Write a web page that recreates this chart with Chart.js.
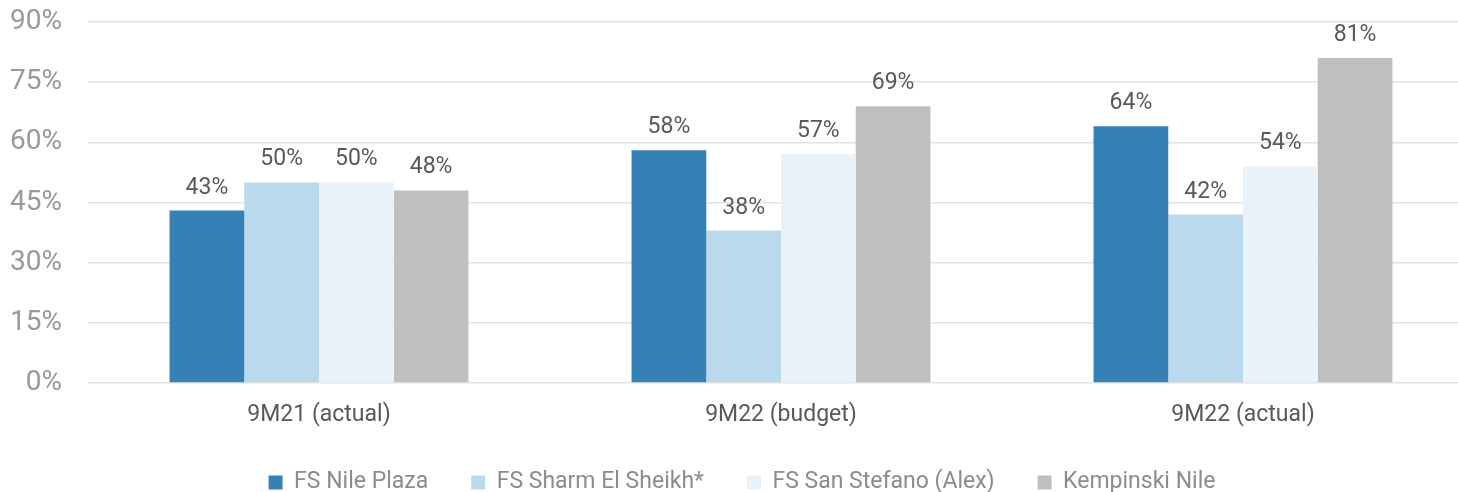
<!DOCTYPE html>
<html>
<head>
<meta charset="utf-8">
<script src="https://cdn.jsdelivr.net/npm/chart.js@4.4.0/dist/chart.umd.min.js"></script>
<style>
  html, body { margin: 0; padding: 0; background: #fff; overflow: hidden; }
  #wrap { position: relative; width: 1474px; height: 504px; }
</style>
</head>
<body>
<div id="wrap"><canvas id="c"></canvas></div>
<script>
const categories = ['9M21 (actual)', '9M22 (budget)', '9M22 (actual)'];
const seriesNames = ['FS Nile Plaza', 'FS Sharm El Sheikh*', 'FS San Stefano (Alex)', 'Kempinski Nile'];
const nilePlaza = [43, 58, 64];
const sharm = [50, 38, 42];
const sanStefano = [50, 57, 54];
const kempinski = [48, 69, 81];
const yTicks = [0, 15, 30, 45, 60, 75, 90];
const colors = ['#3580B4', '#BBD9EC', '#E9F1F9', '#BFBFBF'];

const valueLabels = {
  id: 'valueLabels',
  afterDatasetsDraw(chart) {
    const ctx = chart.ctx;
    ctx.save();
    ctx.font = '23px Roboto';
    ctx.fillStyle = '#595959';
    ctx.textAlign = 'center';
    ctx.textBaseline = 'alphabetic';
    chart.data.datasets.forEach((ds, i) => {
      chart.getDatasetMeta(i).data.forEach((bar, j) => {
        ctx.fillText(ds.data[j] + '%', bar.x, bar.y - 17);
      });
    });
    ctx.restore();
  }
};

new Chart(document.getElementById('c'), {
  type: 'bar',
  data: {
    labels: categories,
    datasets: [nilePlaza, sharm, sanStefano, kempinski].map((d, i) => ({
      label: seriesNames[i],
      data: d,
      backgroundColor: colors[i],
      borderWidth: 0,
      categoryPercentage: 0.647,
      barPercentage: 1.0
    }))
  },
  options: {
    responsive: true,
    maintainAspectRatio: false,
    animation: false,
    layout: { padding: { top: 22, left: 10, right: 0, bottom: 0 } },
    plugins: {
      tooltip: { enabled: false },
      legend: {
        position: 'bottom',
        labels: {
          boxWidth: 14,
          boxHeight: 14,
          padding: 43,
          color: '#8C8C8C',
          font: { family: 'Roboto', size: 23 }
        }
      }
    },
    scales: {
      x: {
        grid: { display: false },
        border: { display: false },
        afterFit(axis) { axis.height = 45; },
        ticks: { color: '#595959', font: { family: 'Roboto', size: 23 }, padding: 10 }
      },
      y: {
        min: 0, max: 90,
        afterBuildTicks(axis) { axis.ticks = yTicks.map(v => ({ value: v })); },
        afterFit(axis) { axis.width = 78; axis.paddingTop = 0; axis.paddingBottom = 0; },
        grid: { color: '#E3E3E3', lineWidth: 1.5, drawTicks: false },
        border: { display: false },
        ticks: {
          color: '#999999',
          font: { family: 'Roboto', size: 28 },
          padding: 26,
          callback: v => v + '%'
        }
      }
    }
  },
  plugins: [valueLabels]
});
</script>
</body>
</html>
